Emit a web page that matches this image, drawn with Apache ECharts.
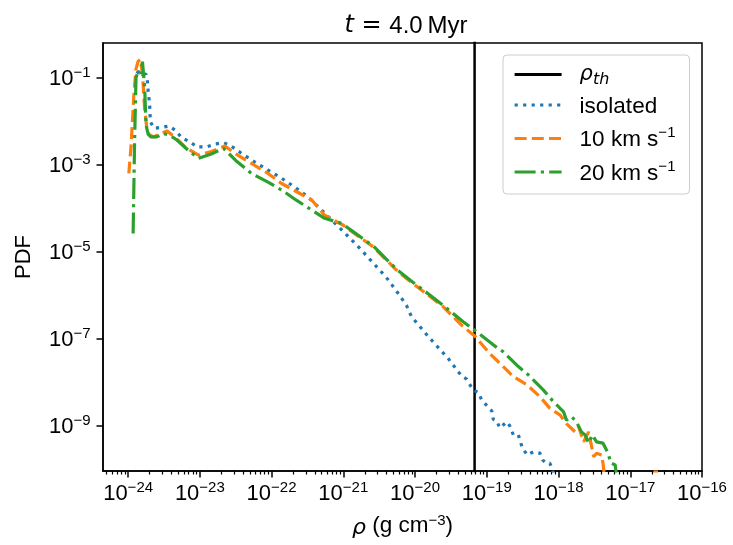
<!DOCTYPE html>
<html><head><meta charset="utf-8">
<script src="https://cdn.jsdelivr.net/npm/echarts@6/dist/echarts.min.js"></script>
<style>html,body{margin:0;padding:0;background:#fff}#c{width:733px;height:545px}</style>
</head><body><div id="c"></div>
<script>
// Axis ticks (log10 exponents)
const xTickExps = [-24, -23, -22, -21, -20, -19, -18, -17, -16];
const yTickExps = [-9, -7, -5, -3, -1];
const xLogMin = -24.35, xLogMax = -16;
const yLogMin = -10.04, yLogMax = -0.2;

// Threshold density (log10 rho)
const logRhoTh = -19.17;

// isolated (log10 rho, log10 PDF)
const isoLogRho = [-23.88,-23.85,-23.80,-23.75,-23.73,-23.72,-23.70,-23.69,-23.64,-23.53,-23.43,-23.33,-23.26,-23.14,-23.04,-22.91,-22.78,-22.67,-22.57,-22.47,-22.28,-22.05,-21.86,-21.68,-21.49,-21.28,-21.02,-20.77,-20.61,-20.40,-20.26,-20.12,-20.05,-19.82,-19.54,-19.35,-19.28,-19.19,-19.12,-19.07,-18.93,-18.91,-18.86,-18.82,-18.72,-18.68,-18.63,-18.56,-18.51,-18.44,-18.35,-18.26,-18.22,-18.17,-18.12,-18.08,-18.05];
const isoLogPdf = [-0.90,-0.85,-0.90,-0.92,-1.09,-1.32,-1.60,-2.01,-2.16,-2.14,-2.11,-2.22,-2.37,-2.47,-2.59,-2.59,-2.52,-2.49,-2.56,-2.68,-2.89,-3.12,-3.31,-3.51,-3.74,-4.08,-4.50,-4.92,-5.21,-5.59,-5.90,-6.23,-6.49,-6.94,-7.45,-7.86,-7.93,-8.18,-8.23,-8.41,-8.66,-8.85,-8.89,-9.05,-8.91,-9.00,-9.21,-9.21,-9.48,-9.67,-9.60,-9.63,-9.79,-9.86,-9.86,-10.05,-10.30];

// 10 km/s
const v10LogRho = [-23.99,-23.96,-23.92,-23.89,-23.86,-23.83,-23.80,-23.77,-23.74,-23.71,-23.65,-23.56,-23.46,-23.35,-23.20,-23.02,-22.85,-22.65,-22.50,-22.28,-22.05,-21.86,-21.65,-21.44,-21.26,-21.00,-20.81,-20.58,-20.26,-20.03,-19.79,-19.61,-19.35,-19.16,-18.96,-18.77,-18.63,-18.44,-18.26,-18.12,-17.98,-17.89,-17.77,-17.72,-17.65,-17.58,-17.51,-17.47,-17.40,-17.38,-17.35,-17.30,-16.68,-16.645,-16.61];
const v10LogPdf = [-3.20,-2.60,-1.40,-0.80,-0.62,-0.58,-0.90,-1.70,-2.15,-2.30,-2.36,-2.30,-2.22,-2.36,-2.60,-2.78,-2.70,-2.57,-2.75,-2.97,-3.20,-3.43,-3.62,-3.81,-4.16,-4.39,-4.62,-4.89,-5.42,-5.73,-6.03,-6.26,-6.69,-6.95,-7.34,-7.64,-7.87,-8.06,-8.33,-8.60,-8.75,-8.95,-9.14,-9.02,-9.37,-9.14,-9.71,-9.63,-9.67,-9.86,-10.30,null,-10.30,-9.97,-10.30];

// 20 km/s
const v20LogRho = [-23.93,-23.91,-23.89,-23.86,-23.83,-23.80,-23.77,-23.75,-23.72,-23.68,-23.60,-23.51,-23.42,-23.32,-23.14,-23.02,-22.85,-22.67,-22.50,-22.28,-22.05,-21.86,-21.65,-21.44,-21.26,-21.02,-20.81,-20.58,-20.26,-20.03,-19.79,-19.61,-19.33,-19.14,-18.91,-18.77,-18.56,-18.42,-18.21,-18.09,-17.93,-17.89,-17.82,-17.75,-17.68,-17.63,-17.58,-17.53,-17.47,-17.38,-17.31,-17.27,-17.21,-17.18];
const v20LogPdf = [-4.58,-2.50,-1.00,-0.85,-0.90,-0.63,-1.20,-2.09,-2.30,-2.36,-2.36,-2.28,-2.32,-2.43,-2.70,-2.85,-2.76,-2.62,-2.90,-3.20,-3.40,-3.58,-3.82,-4.04,-4.23,-4.35,-4.60,-4.87,-5.40,-5.70,-6.00,-6.23,-6.61,-6.84,-7.14,-7.30,-7.64,-7.83,-8.18,-8.41,-8.68,-8.87,-8.79,-8.91,-9.14,-9.21,-9.40,-9.21,-9.37,-9.40,-9.63,-9.86,-9.90,-10.30];

const seriesNames = ['rho_th', 'isolated', '10 km s-1', '20 km s-1'];
const colors = ['#000000', '#1f77b4', '#ff7f0e', '#2ca02c'];

const FONT = '"Liberation Sans", Arial, sans-serif';
const MATH = '"DejaVu Sans", sans-serif';

function pairs(xs, ys) { return xs.map((x, i) => [x, ys[i] === null ? '-' : ys[i]]); }

// minor ticks at k*10^n (k = 2..9)
const xMinor = [];
for (let n = -25; n < -16; n++) for (let k = 2; k <= 9; k++) {
  const v = n + Math.log10(k);
  if (v >= xLogMin && v <= xLogMax) xMinor.push(v);
}

const supRich = {
  b: { fontFamily: FONT, fontSize: 22, lineHeight: 25, verticalAlign: 'bottom', color: '#000' },
  s: { fontFamily: FONT, fontSize: 15, lineHeight: 10, verticalAlign: 'top', color: '#000' }
};
const powFmt = v => '{b|10}{s|\u2212' + Math.round(-v) + '}';

const chart = echarts.init(document.getElementById('c'), null, { renderer: 'canvas' });
chart.setOption({
  animation: false,
  backgroundColor: '#fff',
  title: {
    text: '{i|t}{m| = }4.0\u2009Myr',
    left: 401, top: 9, textAlign: 'center',
    textStyle: {
      fontFamily: FONT, fontSize: 24, fontWeight: 'normal', color: '#000',
      rich: {
        i: { fontFamily: MATH, fontStyle: 'italic', fontSize: 24, color: '#000' },
        m: { fontFamily: MATH, fontSize: 24, color: '#000' }
      }
    }
  },
  grid: { left: 103, top: 43, right: 31, bottom: 74, show: true, borderColor: '#000', borderWidth: 1.5, containLabel: false },
  legend: {
    orient: 'vertical', left: 503, top: 55,
    padding: [9, 14, 9, 10], itemGap: 7.5, itemWidth: 47, itemHeight: 24,
    borderColor: '#cccccc', borderWidth: 1, borderRadius: 4, backgroundColor: 'rgba(255,255,255,0.8)',
    itemStyle: { opacity: 0 },
    lineStyle: { width: 3.2 },
    data: seriesNames,
    formatter: function (name) {
      if (name === 'rho_th') return '{i|\u03c1}{sub|th}';
      if (name === 'isolated') return '{t|isolated}';
      const p = name.split(' ');
      return '{t|' + p[0] + ' km s}{s|\u22121}';
    },
    textStyle: {
      padding: [0, 0, 0, 13],
      rich: {
        t: { fontFamily: FONT, fontSize: 22.5, lineHeight: 26, verticalAlign: 'bottom', color: '#000' },
        s: { fontFamily: FONT, fontSize: 15, lineHeight: 10, verticalAlign: 'top', color: '#000' },
        i: { fontFamily: MATH, fontStyle: 'italic', fontSize: 21, lineHeight: 26, color: '#000' },
        sub: { fontFamily: MATH, fontStyle: 'italic', fontSize: 16, lineHeight: 17, verticalAlign: 'bottom', color: '#000' }
      }
    }
  },
  xAxis: [{
    type: 'value', min: xLogMin, max: xLogMax,
    name: '{i|\u03c1} (g cm{s|\u22123})', nameLocation: 'middle', nameGap: 42,
    nameTextStyle: {
      fontFamily: FONT, fontSize: 22.5, color: '#000',
      rich: {
        i: { fontFamily: MATH, fontStyle: 'italic', fontSize: 22, lineHeight: 26, verticalAlign: 'bottom', color: '#000' },
        s: { fontFamily: FONT, fontSize: 15, lineHeight: 10, verticalAlign: 'top', color: '#000' }
      }
    },
    axisLine: { show: true, lineStyle: { color: '#000', width: 1.5 } },
    axisTick: { show: true, inside: false, length: 6.5, customValues: xTickExps, lineStyle: { color: '#000', width: 1.5 } },
    axisLabel: { show: true, margin: 9, customValues: xTickExps, formatter: powFmt, rich: supRich },
    splitLine: { show: false }
  }, {
    type: 'value', min: xLogMin, max: xLogMax, position: 'bottom',
    axisLine: { show: false },
    axisTick: { show: true, inside: false, length: 3.5, customValues: xMinor, lineStyle: { color: '#000', width: 1.2 } },
    axisLabel: { show: false },
    splitLine: { show: false }
  }],
  yAxis: {
    type: 'value', min: yLogMin, max: yLogMax,
    name: 'PDF', nameLocation: 'middle', nameGap: 68,
    nameTextStyle: { fontFamily: FONT, fontSize: 22, color: '#000' },
    axisLine: { show: true, lineStyle: { color: '#000', width: 1.5 } },
    axisTick: { show: true, inside: false, length: 6.5, customValues: yTickExps, lineStyle: { color: '#000', width: 1.5 } },
    axisLabel: { show: true, margin: 12.5, customValues: yTickExps, formatter: powFmt, rich: supRich },
    splitLine: { show: false }
  },
  series: [
    {
      name: 'rho_th', type: 'line', symbol: 'none', z: 2,
      data: [[logRhoTh, yLogMin - 1], [logRhoTh, yLogMax + 1]],
      lineStyle: { color: colors[0], width: 2.5, type: 'solid' }, itemStyle: { color: 'rgba(0,0,0,0)' }
    },
    {
      name: 'isolated', type: 'line', symbol: 'none', z: 3,
      data: pairs(isoLogRho, isoLogPdf),
      lineStyle: { color: colors[1], width: 3.2, type: [3.2, 5.3], cap: 'butt' }, itemStyle: { color: 'rgba(0,0,0,0)' }
    },
    {
      name: '10 km s-1', type: 'line', symbol: 'none', z: 4,
      data: pairs(v10LogRho, v10LogPdf),
      lineStyle: { color: colors[2], width: 3.2, type: [12, 5.2], cap: 'butt' }, itemStyle: { color: 'rgba(0,0,0,0)' }
    },
    {
      name: '20 km s-1', type: 'line', symbol: 'none', z: 5,
      data: pairs(v20LogRho, v20LogPdf),
      lineStyle: { color: colors[3], width: 3.2, type: [21, 5.2, 3.2, 5.2], cap: 'butt' }, itemStyle: { color: 'rgba(0,0,0,0)' }
    }
  ]
});
</script>
</body></html>
